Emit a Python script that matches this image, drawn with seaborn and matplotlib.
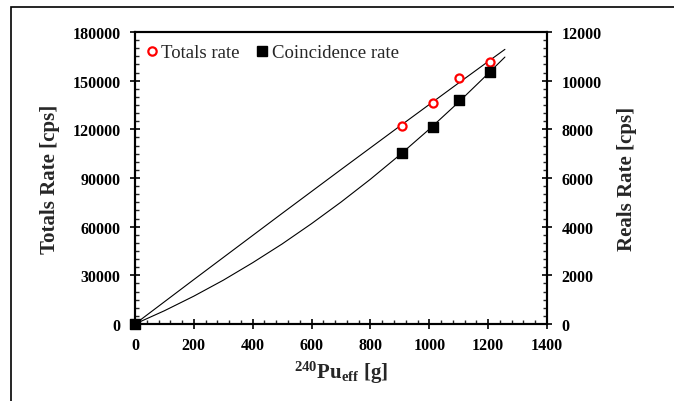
import matplotlib
matplotlib.use("Agg")
import matplotlib.pyplot as plt
from matplotlib.lines import Line2D
from matplotlib.patches import Rectangle
from matplotlib.ticker import MultipleLocator, AutoMinorLocator
import seaborn as sns

# ------------------------------------------------------------------------------
# Data
# ------------------------------------------------------------------------------

# measured points, 240Pu effective mass [g]
pu_mass = [0, 908, 1011, 1102, 1205]
totals_rate = [0, 122200, 136200, 151800, 161300]   # left axis [cps]
reals_rate = [0, 7030, 8110, 9220, 10370]          # right axis [cps]

# fitted curves
fit_mass = [0, 100, 200, 300, 400, 500, 600, 700, 800, 900, 1000, 1100,
            1200, 1257]
fit_totals = [0, 13700, 27400, 41000, 54600, 68200, 81700, 95200, 108600,
              122000, 135300, 148600, 161800, 169300]
fit_reals = [0, 545, 1145, 1800, 2520, 3290, 4125, 5010, 5950, 6950, 8005,
             9120, 10290, 10970]

# ------------------------------------------------------------------------------
# Plot
# ------------------------------------------------------------------------------

sns.set_style("ticks")
plt.rcParams['font.family'] = ['Liberation Serif', 'DejaVu Serif']
plt.rcParams['mathtext.fontset'] = 'custom'
plt.rcParams['mathtext.rm'] = 'Liberation Serif:bold'
plt.rcParams['mathtext.bf'] = 'Liberation Serif:bold'
plt.rcParams['mathtext.it'] = 'Liberation Serif:bold'

fig = plt.figure(figsize=(6.74, 4.02), dpi=100)
ax = fig.add_axes([135 / 674, 1 - 325 / 402, 412 / 674, 292 / 402])
ax2 = ax.twinx()

# outer frame around the figure
fig.patches.append(Rectangle(
    (11 / 674, -0.2), 2, 1.2 - 8 / 402,
    transform=fig.transFigure, fill=False, edgecolor='black', linewidth=1.2
))

# ===== Totals =====
sns.lineplot(x=fit_mass, y=fit_totals, ax=ax, color='black', linewidth=0.8)
ax.scatter(pu_mass, totals_rate, marker='o', s=34, facecolors='white',
           edgecolors='red', linewidths=1.6, zorder=3, clip_on=False)

# ===== Reals =====
sns.lineplot(x=fit_mass, y=fit_reals, ax=ax2, color='black', linewidth=0.8)
ax2.scatter(pu_mass, reals_rate, marker='s', s=48, color='black',
            zorder=3, clip_on=False)

# ===== Axes =====
ax.set_xlim(0, 1400)
ax.set_ylim(0, 180000)
ax2.set_ylim(0, 12000)
ax.xaxis.set_major_locator(MultipleLocator(200))
ax.xaxis.set_minor_locator(AutoMinorLocator(5))
ax.yaxis.set_major_locator(MultipleLocator(30000))
ax.yaxis.set_minor_locator(AutoMinorLocator(6))
ax2.yaxis.set_major_locator(MultipleLocator(2000))
ax2.yaxis.set_minor_locator(AutoMinorLocator(6))

for a in (ax, ax2):
    for s in a.spines.values():
        s.set_linewidth(1.5)
        s.set_color('black')
    a.tick_params(which='major', direction='inout', length=7, width=1.2,
                  labelsize=11.5, colors='black')
    a.tick_params(which='minor', direction='in', length=3, width=1.0)
    for lbl in a.get_xticklabels() + a.get_yticklabels():
        lbl.set_fontweight('bold')

ax.tick_params(axis='y', which='major', pad=7)
ax.tick_params(axis='x', which='major', pad=6)
ax2.tick_params(axis='y', which='major', pad=7)

ax.set_xlabel(r'$\mathrm{^{240}Pu_{eff}}$ [g]', fontsize=15,
              fontweight='bold', labelpad=4)
ax.set_ylabel('Totals Rate [cps]', fontsize=15, fontweight='bold',
              labelpad=9)
ax2.set_ylabel('Reals Rate [cps]', fontsize=15, fontweight='bold',
               labelpad=11)

# ===== Legend =====
handles = [
    Line2D([], [], linestyle='', marker='o', markersize=6,
           markerfacecolor='white', markeredgecolor='red',
           markeredgewidth=1.6, label='Totals rate'),
    Line2D([], [], linestyle='', marker='s', markersize=6.5,
           color='black', label='Coincidence rate'),
]
ax2.legend(handles=handles, loc='upper left', ncol=2, frameon=False,
           fontsize=13.5, handletextpad=0.1, columnspacing=0.8,
           handlelength=0.8, borderaxespad=0.1,
           bbox_to_anchor=(0.0, 0.99))

fig.savefig("out.png", dpi=100)
